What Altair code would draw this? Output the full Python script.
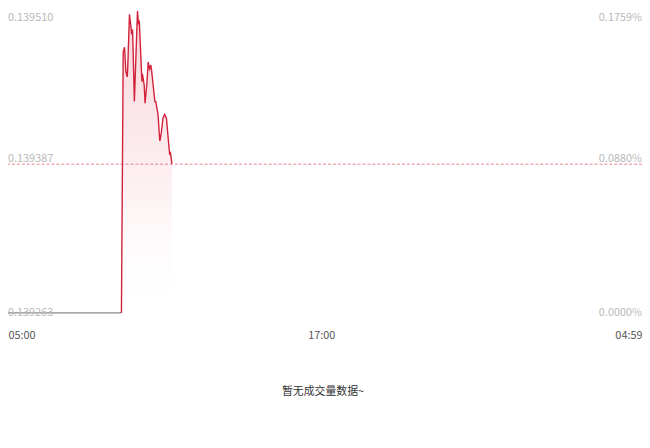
import altair as alt
import pandas as pd

# ---- data ----
# minutes since 05:00
flat_minutes = [0, 272]
flat_prices = [0.139263, 0.139263]

red_minutes = [272, 276, 279, 282, 285, 286, 290, 293, 295, 297, 301, 308, 310, 312,
               316, 318, 319, 323, 325, 329, 332, 335, 338, 340, 344, 347, 349, 354,
               358, 361, 365, 369, 373, 376, 380, 382, 385]
red_prices = [0.139263, 0.1394804, 0.1394845, 0.1394639, 0.1394598, 0.1394664, 0.1395119,
              0.1395026, 0.1394952, 0.1394993, 0.1394392, 0.1395147, 0.1395051, 0.1395067,
              0.1394721, 0.1394557, 0.1394623, 0.1394532, 0.1394378, 0.1394540, 0.1394721,
              0.1394664, 0.1394697, 0.1394639, 0.1394499, 0.1394392, 0.1394392, 0.1394285,
              0.1394063, 0.1394120, 0.1394252, 0.1394285, 0.1394252, 0.1394120, 0.1393956,
              0.1393964, 0.1393873]

prev_close = 0.139387
price_ticks = [0.139510, 0.139387, 0.139263]
price_labels = ["0.139510", "0.139387", "0.139263"]
pct_labels = ["0.1759%", "0.0880%", "0.0000%"]

time_tick_minutes = [0, 720, 1439]
time_tick_labels = ["05:00", "17:00", "04:59"]

empty_text = "暂无成交量数据~"

# ---- layout ----
W, H = 642, 306
FONT = "Noto Sans CJK SC"
RED = "#d2213a"
base = flat_prices[0]

x_lo = 1439 * 8 / 650
x_scale = alt.Scale(domain=[x_lo, 1439], clamp=True)
y_scale = alt.Scale(domain=[min(price_ticks), max(price_ticks)], range=[H, 6], zero=False)

flat_df = pd.DataFrame({"m": flat_minutes, "p": flat_prices})
red_df = pd.DataFrame({"m": red_minutes, "p": red_prices, "b": [base] * len(red_minutes)})

label_expr = ("datum.value < 360 ? '%s' : (datum.value < 1080 ? '%s' : '%s')"
              % tuple(time_tick_labels))

x_enc = alt.X("m:Q", scale=x_scale,
              axis=alt.Axis(values=[x_lo, time_tick_minutes[1], time_tick_minutes[2]],
                            labelExpr=label_expr, labelFlush=True, domain=False,
                            ticks=False, grid=False, title=None, labelPadding=17,
                            labelFont=FONT, labelFontSize=11, labelColor="#555555"))

area = alt.Chart(red_df).mark_area(
    color=alt.Gradient(
        gradient="linear",
        stops=[alt.GradientStop(color="rgba(220,40,62,0.2)", offset=0),
               alt.GradientStop(color="rgba(230,80,100,0.08)", offset=0.6),
               alt.GradientStop(color="rgba(255,255,255,0)", offset=1)],
        x1=1, x2=1, y1=0, y2=1),
).encode(x=x_enc, y=alt.Y("p:Q", scale=y_scale, axis=None), y2="b:Q")

flat_line = alt.Chart(flat_df).mark_line(color="#8c8c8c", strokeWidth=1.2).encode(
    x=alt.X("m:Q", scale=x_scale), y=alt.Y("p:Q", scale=y_scale, axis=None))

red_line = alt.Chart(red_df).mark_line(color=RED, strokeWidth=1.4).encode(
    x=alt.X("m:Q", scale=x_scale), y=alt.Y("p:Q", scale=y_scale, axis=None))

rule = alt.Chart(pd.DataFrame({"p": [prev_close]})).mark_rule(
    color="#e8808c", strokeDash=[3, 2], strokeWidth=1).encode(
    y=alt.Y("p:Q", scale=y_scale, axis=None))

label_df = pd.DataFrame({"p": price_ticks, "l": price_labels, "r": pct_labels})
baselines = [("middle", 1), ("bottom", 0), ("middle", 0)]
text_layers = []
for i, (bl, dy) in enumerate(baselines):
    d = label_df.iloc[[i]]
    text_layers.append(alt.Chart(d).mark_text(
        align="left", baseline=bl, dy=dy, font=FONT, fontSize=11, color="#b8b8b8").encode(
        x=alt.value(0), y=alt.Y("p:Q", scale=y_scale, axis=None), text="l:N"))
    text_layers.append(alt.Chart(d).mark_text(
        align="right", baseline=bl, dy=dy, font=FONT, fontSize=11, color="#b8b8b8").encode(
        x=alt.value(W), y=alt.Y("p:Q", scale=y_scale, axis=None), text="r:N"))

empty = alt.Chart(pd.DataFrame({"t": [empty_text]})).mark_text(
    font=FONT, fontSize=11, color="#333333", baseline="middle").encode(
    x=alt.value(319), y=alt.value(386), text="t:N")

chart = alt.layer(area, rule, flat_line, red_line, *text_layers, empty).properties(
    width=W, height=H,
    autosize=alt.AutoSizeParams(type="none"),
    padding={"left": 0, "top": 0, "right": 0, "bottom": 134},
).configure_view(stroke=None)

chart.save("out.html", embed_options={"renderer": "svg", "actions": False})
